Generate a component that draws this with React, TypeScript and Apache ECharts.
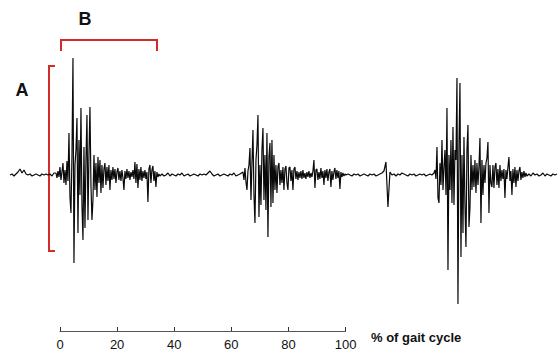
import React, { useEffect, useRef } from "react";
import * as echarts from "echarts";

// EMG signal pieces: x in % of gait cycle, amplitude in arbitrary units (0 = baseline)
// quiet stretches are sampled every 0.7 %, bursts every 0.35 %
const preQuiet = [0, 1, -1, 1, 3, 6, 2, 5, 1, 0, 1, -1, 0, 1, 0, -1, 1, 0, 1, 0, 1, -1, 2];
const burst1 = [
  2, -3, 4, -2, 8, -5, 3, 12, -8, 5,
  -10, 14, -6, 42, -22, -38, 20, 117, -88, 10,
  25, 57, -58, 35, -20, 67, -30, -65, 28, -53,
  15, 60, -45, 20, 68, -10, -45, -25, 20, -15,
  12, -22, 18, -8, 15, -18, 10, -13, 6, 12,
  -10, 8, -6, 10, -15, 5, -5, 8, -4, 6,
  -8, 3, 7, -5, 4, -6, 5, -3, -15, 4,
  -4, 6, -3, 4, -5, 3, -2, 5, -4, 13,
  -8, 11, -13, 6, -5, 8, -6, 4, -3, 5,
  -4, 3, -27, 6, 10, -8, 5, 9, -6, 4,
  -12, 3, -2, 1, -1,
];
const midQuiet1 = [
  1, -1, 0, 2, -1, 1, 0, -1, 1, 0, 2, -1, 0, 1, -1, 0, 1, 0, -1, 1,
  0, 1, 0, 2, 4, 1, -1, 0, 1, -1, 0, 1, 0, -1, 1, 0, 2, -1, 0, 1,
];
const burst2 = [
  3, -5, 7, -7, -15, 4, 10, 27, -25, 12,
  45, -20, -48, 15, 30, 60, -42, 10, -30, 25,
  47, -25, 20, -35, 42, -62, 18, 32, -32, 35,
  -28, 20, -15, 10, -18, 8, 12, -10, 5, -8,
  8, -15, 6, 9, -8, -15, 7, 8, -6, 5,
  -15, 6, 8, -4, 4, -5, 3, -3, 4, -4,
  5, -3, 2, -4, 3, -2, 4, -3, 2, -2,
  4, 15, -13, 5, 6, -5, 3, -4, 7, -3,
  4, -10, 5, -3, 6, -6, 3, 6, -12, 4,
  -5, 3, 7, -4, 5, -3, 4, -14, 3, -2,
  2, -1, 1, 0,
];
const midQuiet2 = [
  1, 0, -1, 1, 0, 1, -1, 0, 1, 0, -1, 1, 0, 1, -1, 0, 1, 2,
  4, 13, -32, 3,
  0, 1, -1, 1, 0, 2, 1, 0, -1, 1, 0, 1, -1, 0, 1, 0, 1, -1, 0, 1, 0,
];
const burst3 = [
  2, 5, -4, 28, -23, -28, 12, -10, 35, -15,
  8, 25, -20, 67, -95, 20, -15, 35, -28, 48,
  -30, 25, 15, 97, -129, 30, 92, -82, 20, -58,
  38, -30, -72, 25, 50, -52, -33, 20, -15, 10,
  -12, 15, -18, 12, -10, 8, 37, -48, 15, -20,
  10, -8, 12, 17, 33, -38, 10, -8, -12, 10,
  -13, 8, 12, -10, 6, -13, 10, -6, 5, -4,
  6, -23, 5, -4, 8, 18, -6, 4, -20, 6,
  -8, 8, -12, 5, -6, 4, 8, -5, 3, -3,
  4, -2, 2, -1,
];
const postQuiet = [1, -1, 2, 0, 1, -1, 0, 2, -1, 1, 0, -1, 1, 0, 1];

// start (% of gait cycle) and sampling step (%) of each piece
const pieceStarts = [-17.5, -1.4, 35.72, 64.08, 100.85, 130.97, 164.23];
const pieceSteps = [0.7, 0.35, 0.7, 0.35, 0.7, 0.35, 0.7];
const pieces = [preQuiet, burst1, midQuiet1, burst2, midQuiet2, burst3, postQuiet];

const axisMin = 0;
const axisMax = 100;
const axisInterval = 20;
const axisTitle = "% of gait cycle";
const labelA = "A";
const labelB = "B";

export default function App() {
  const ref = useRef<HTMLDivElement>(null);

  useEffect(() => {
    document.body.style.margin = "0";
    if (!ref.current) return;
    const chart = echarts.init(ref.current, null, { renderer: "svg" });
    const data: number[][] = [];
    pieces.forEach((vals, p) => {
      vals.forEach((v, i) => data.push([pieceStarts[p] + i * pieceSteps[p], v]));
    });
    const red = "#d32a2a";
    const font = "Liberation Sans, Arial, sans-serif";
    chart.setOption({
      animation: false,
      backgroundColor: "#ffffff",
      grid: [
        { left: 10, top: 45, width: 548, height: 270 },
        { left: 60, top: 300, width: 285.57, height: 31 },
      ],
      xAxis: [
        { type: "value", gridIndex: 0, min: -17.5, max: 174.4, show: false },
        {
          type: "value",
          gridIndex: 1,
          min: axisMin,
          max: axisMax,
          interval: axisInterval,
          axisLine: { show: true, lineStyle: { color: "#555", width: 1 } },
          axisTick: { show: true, inside: true, length: 4, lineStyle: { color: "#333" } },
          axisLabel: { show: true, margin: 7, fontSize: 13, color: "#111", fontFamily: font },
          splitLine: { show: false },
        },
      ],
      yAxis: [
        { type: "value", gridIndex: 0, min: -140, max: 130, show: false },
        { type: "value", gridIndex: 1, min: 0, max: 1, show: false },
      ],
      series: [
        {
          type: "line",
          xAxisIndex: 0,
          yAxisIndex: 0,
          data,
          showSymbol: false,
          symbol: "none",
          lineStyle: { color: "#0a0a0a", width: 1.2 },
          silent: true,
        },
      ],
      graphic: [
        {
          type: "polyline",
          shape: { points: [[61, 51], [61, 40], [157, 40], [157, 51]] },
          style: { stroke: red, lineWidth: 2, fill: "none" },
        },
        {
          type: "polyline",
          shape: { points: [[55, 66], [49, 66], [49, 251], [55, 251]] },
          style: { stroke: red, lineWidth: 2, fill: "none" },
        },
        {
          type: "text",
          x: 85,
          y: 19,
          style: { text: labelB, fontSize: 18, fontWeight: "bold", fontFamily: font, fill: "#111", align: "center", verticalAlign: "middle" },
        },
        {
          type: "text",
          x: 22,
          y: 90,
          style: { text: labelA, fontSize: 18, fontWeight: "bold", fontFamily: font, fill: "#111", align: "center", verticalAlign: "middle" },
        },
        {
          type: "text",
          x: 371,
          y: 337,
          style: { text: axisTitle, fontSize: 13, fontWeight: "bold", fontFamily: font, fill: "#111", align: "left", verticalAlign: "middle" },
        },
      ],
    });
    return () => chart.dispose();
  }, []);

  return <div ref={ref} style={{ width: 560, height: 355 }} />;
}
